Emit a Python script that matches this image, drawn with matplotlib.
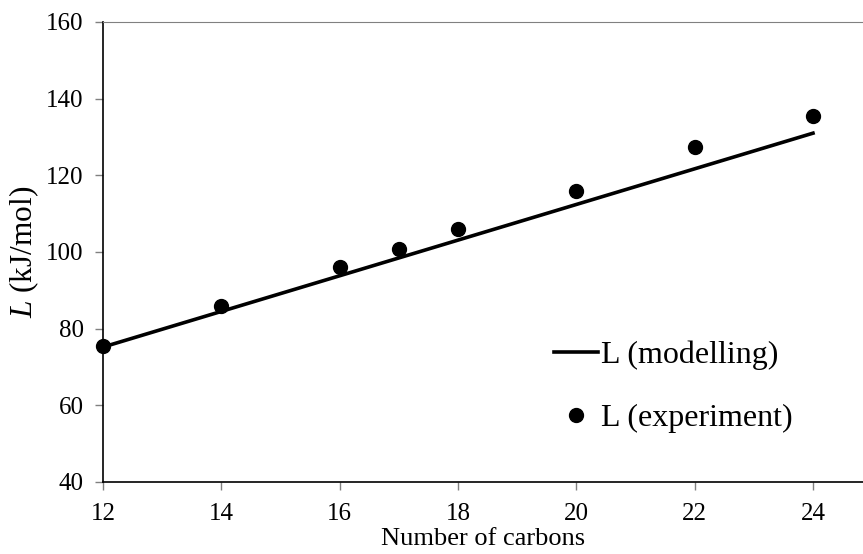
import matplotlib
matplotlib.use("Agg")
import matplotlib.pyplot as plt

# data
carbons = [12, 14, 16, 17, 18, 20, 22, 24]
L_exp = [75.6, 86.0, 96.0, 100.8, 106.0, 116.0, 127.4, 135.6]
model_x = [12, 24]
model_y = [75.2, 131.0]

plt.rcParams['font.family'] = ['Liberation Serif', 'DejaVu Serif']
plt.rcParams['mathtext.fontset'] = 'custom'
plt.rcParams['mathtext.rm'] = 'Liberation Serif'
plt.rcParams['mathtext.it'] = 'Liberation Serif:italic'

fig = plt.figure(figsize=(8.63, 5.54), dpi=100)
ax = fig.add_axes([103 / 863, 72 / 554, 760 / 863, 460 / 554])

ax.plot(model_x, model_y, color='black', lw=2.6, label='L (modelling)', zorder=2)
ax.plot(carbons, L_exp, 'o', color='black', ms=10, label='L (experiment)', zorder=3,
        clip_on=False)

ax.set_xlim(12, 12 + 760 / (710 / 12))
ax.set_ylim(40, 160)
ax.set_xticks(range(12, 25, 2))
ax.set_yticks(range(40, 161, 20))

ax.spines['right'].set_visible(False)
ax.spines['top'].set_color('#808080')
ax.spines['left'].set_linewidth(1.2)
ax.spines['bottom'].set_linewidth(1.2)
ax.tick_params(direction='out', length=6, width=1, color='#808080', labelsize=18)
ax.tick_params(axis='x', pad=9)
ax.tick_params(axis='y', pad=8)

ax.set_xlabel('Number of carbons', fontsize=19, labelpad=2)
ax.set_ylabel(r'$\mathit{L}$ (kJ/mol)', fontsize=22.5, labelpad=4)

ax.legend(loc='upper left', bbox_to_anchor=(0.573, 0.342), frameon=False,
          fontsize=23, handlelength=1.35, handletextpad=0.12, labelspacing=1.04,
          borderpad=0)

fig.savefig('out.png', dpi=100)
